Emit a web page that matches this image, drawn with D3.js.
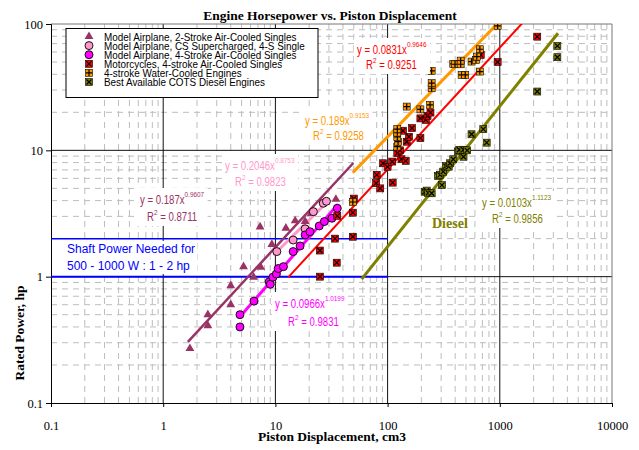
<!DOCTYPE html>
<html>
<head>
<meta charset="utf-8">
<script src="https://cdn.jsdelivr.net/npm/d3@7"></script>
<style>
  body { margin: 0; background: #fff; }
  svg { display: block; }
  .narrow { font-family: "Liberation Sans Narrow", "Arial Narrow", "Liberation Sans", Arial, sans-serif; }
  .serif { font-family: "Liberation Serif", "Times New Roman", serif; }
</style>
</head>
<body>
<script>
// set dimensions and margins
const width = 639
const height = 450
const margin = {top: 24, right: 27, bottom: 47, left: 51}

// tick values
const xTicks = [0.1, 1, 10, 100, 1000, 10000]
const yTicks = [0.1, 1, 10, 100]

// data: [displacement cm3, rated hp]
const twoStroke = [[1.73, 0.27], [2.5, 0.41], [2.5, 0.50], [4.0, 0.60], [4.0, 0.85], [5.2, 1.2],
  [6.4, 0.99], [7.4, 1.19], [9.3, 1.8], [7.3, 2.48], [12.4, 2.42], [15, 2.77], [18.4, 2.74],
  [20.8, 3.17], [34.6, 4.1]]
const csSuper = [[10.3, 1.58], [14.4, 1.95], [18.4, 2.39], [21.8, 3.27], [26.7, 3.81], [28.5, 3.95]]
const fourStroke = [[4.83, 0.40], [4.83, 0.50], [6.44, 0.64], [8.8, 0.91], [9.0, 0.87], [9.5, 0.99],
  [10.2, 1.05], [10.6, 1.16], [11.8, 1.2], [14.4, 1.58], [16.6, 1.75], [18.4, 2.14], [20.3, 2.27],
  [24.6, 2.52], [27.3, 2.73], [31.9, 2.9], [35.6, 3.48]]
const motorcycles = [[25, 1.0], [24.9, 1.61], [34, 2.0], [35.2, 1.29], [35.6, 3.03], [49, 2.07],
  [49, 3.21], [50, 4.15], [80, 6.4], [79, 5.5], [86, 5.0], [111, 5.55], [91, 7.9], [100, 7.4],
  [110, 8.15], [122, 9.5], [133, 8.5], [145, 8.25], [129, 10], [148, 11.7], [155, 12.8], [137, 14.3],
  [165, 15], [196, 12.5], [196, 17.9], [219, 17.4], [227, 18.7], [241, 19.9], [676, 57], [957, 50],
  [2157, 79.4]]
const waterCooled = [[49, 3.9], [122, 10.7], [124, 11.7], [122, 12.8], [122, 13.8], [122, 14.7],
  [148, 22.2], [196, 21.1], [239, 22.9], [247, 31], [247, 34], [247, 42.5], [385, 48.3], [399, 48],
  [448, 51.3], [448, 48], [457, 39.5], [492, 39.5], [560, 50.4], [613, 52], [624, 55.2], [664, 63.1],
  [664, 42], [957, 96.6]]
const diesel = [[214, 4.7], [223, 4.8], [230, 4.6], [247, 4.57], [281, 6.27], [293, 6.4], [305, 5.3],
  [313, 6.78], [330, 7.5], [350, 7.43], [360, 7.9], [385, 8.5], [425, 9.8], [436, 10.1], [475, 8.9],
  [475, 10.1], [512, 10.0], [560, 13.4], [713, 14.7], [764, 11.5], [2157, 29.2], [3258, 54.6],
  [3258, 67.1]]

// power-law fits y = a x^b, drawn over [x0, x1]
const fits = [
  {name: 'twoStroke', a: 0.187, b: 0.9607, x0: 1.66, x1: 49.5, r2: '0.8711', color: '#993366', w: 2.5},
  {name: 'csSuper', a: 0.2046, b: 0.8753, x0: 9.6, x1: 28.6, r2: '0.9823', color: '#FF99CC', w: 3},
  {name: 'fourStroke', a: 0.0966, b: 1.0199, x0: 4.83, x1: 36, r2: '0.9831', color: '#FF00FF', w: 3},
  {name: 'motorcycles', a: 0.0831, b: 0.9646, x0: 13, x1: 2160, r2: '0.9251', color: '#FF0000', w: 2},
  {name: 'waterCooled', a: 0.189, b: 0.9153, x0: 49, x1: 960, r2: '0.9258', color: '#FF9900', w: 3},
  {name: 'diesel', a: 0.0103, b: 1.1123, x0: 58.7, x1: 3300, r2: '0.9856', color: '#808000', w: 3}
]

// shaft power band (hp) and its x extent
const bandLevels = [1, 2]
const bandExtent = [0.1, 100]

const legendLabels = [
  'Model Airplane, 2-Stroke Air-Cooled Singles',
  'Model Airplane, CS Supercharged, 4-S Single',
  'Model Airplane, 4-Stroke Air-Cooled Singles',
  'Motorcycles, 4-stroke Air-Cooled Singles',
  '4-stroke Water-Cooled Engines',
  'Best Available COTS Diesel Engines'
]

const series = [
  {data: twoStroke, marker: 'triangle', color: '#993366'},
  {data: csSuper, marker: 'circle', color: '#FF99CC'},
  {data: fourStroke, marker: 'circle', color: '#FF00FF'},
  {data: motorcycles, marker: 'cross', color: '#FF0000'},
  {data: waterCooled, marker: 'plus', color: '#FF9900'},
  {data: diesel, marker: 'cross', color: '#808000'}
]

const x = d3.scaleLog().domain([0.1, 10000]).range([margin.left, width - margin.right])
const y = d3.scaleLog().domain([0.1, 100]).range([height - margin.bottom, margin.top])

const svg = d3.select('body').append('svg')
    .attr('width', width)
    .attr('height', height)

// squeeze text horizontally (stand-in for a condensed face)
function condense(sel, k) {
  sel.each(function () {
    const len = this.getComputedTextLength()
    d3.select(this).attr('textLength', len * k).attr('lengthAdjust', 'spacingAndGlyphs')
  })
}

svg.append('clipPath').attr('id', 'plot-clip')
  .append('rect')
    .attr('x', x.range()[0]).attr('y', y.range()[1])
    .attr('width', x.range()[1] - x.range()[0])
    .attr('height', y.range()[0] - y.range()[1])

// minor gridlines
const minorX = d3.range(-1, 4).flatMap((e) => d3.range(2, 10).map((m) => m * Math.pow(10, e)))
const minorY = d3.range(-1, 2).flatMap((e) => d3.range(2, 10).map((m) => m * Math.pow(10, e)))

const grid = svg.append('g')
grid.selectAll('.minor-x').data(minorX).join('line')
    .attr('x1', (d) => x(d)).attr('x2', (d) => x(d))
    .attr('y1', y.range()[0]).attr('y2', y.range()[1])
    .attr('stroke', '#bdbdbd').attr('stroke-dasharray', '6,5')
grid.selectAll('.minor-y').data(minorY).join('line')
    .attr('y1', (d) => y(d)).attr('y2', (d) => y(d))
    .attr('x1', x.range()[0]).attr('x2', x.range()[1])
    .attr('stroke', '#bdbdbd').attr('stroke-dasharray', '6,5')

// major gridlines
grid.selectAll('.major-x').data(xTicks.slice(1, -1)).join('line')
    .attr('x1', (d) => x(d)).attr('x2', (d) => x(d))
    .attr('y1', y.range()[0]).attr('y2', y.range()[1])
    .attr('stroke', '#111')
grid.selectAll('.major-y').data(yTicks.slice(1, -1)).join('line')
    .attr('y1', (d) => y(d)).attr('y2', (d) => y(d))
    .attr('x1', x.range()[0]).attr('x2', x.range()[1])
    .attr('stroke', '#111')

// plot frame (top and right)
svg.append('path')
    .attr('d', `M${x.range()[0]},${y.range()[1]}H${x.range()[1]}V${y.range()[0]}`)
    .attr('fill', 'none').attr('stroke', '#777')

// axes
const xAxis = svg.append('g')
    .attr('transform', `translate(0, ${y.range()[0]})`)
    .call(d3.axisBottom(x).tickValues(xTicks).tickFormat((d) => d3.format('~g')(d)).tickSize(4).tickPadding(14))
const yAxis = svg.append('g')
    .attr('transform', `translate(${x.range()[0]}, 0)`)
    .call(d3.axisLeft(y).tickValues(yTicks).tickFormat((d) => d3.format('~g')(d)).tickSize(5).tickPadding(3))
;[xAxis, yAxis].forEach((a) => {
  a.select('.domain').attr('stroke', '#000')
  a.selectAll('line').attr('stroke', '#000')
  a.selectAll('text').attr('class', 'serif').attr('font-size', 12.5).attr('fill', '#000')
})

// shaft power band
svg.selectAll('.band').data(bandLevels).join('line')
    .attr('x1', x(bandExtent[0])).attr('x2', x(bandExtent[1]))
    .attr('y1', (d) => y(d)).attr('y2', (d) => y(d))
    .attr('stroke', '#0000FF').attr('stroke-width', (d) => d === 1 ? 2 : 1.5)

// trendlines
const trend = d3.line().x((d) => x(d[0])).y((d) => y(d[1]))
svg.append('g').attr('clip-path', 'url(#plot-clip)')
  .selectAll('path').data(fits).join('path')
    .attr('d', (f) => trend([f.x0, f.x1].map((v) => [v, f.a * Math.pow(v, f.b)])))
    .attr('fill', 'none')
    .attr('stroke', (f) => f.color)
    .attr('stroke-width', (f) => f.w)

// markers
function drawMarker(sel, kind, color) {
  if (kind === 'triangle') {
    sel.append('path').attr('d', d3.symbol(d3.symbolTriangle, 34)())
      .attr('fill', color)
  } else if (kind === 'circle') {
    sel.append('circle').attr('r', 4).attr('fill', color).attr('stroke', '#000').attr('stroke-width', 0.9)
  } else {
    sel.append('rect').attr('x', -3.5).attr('y', -3.5).attr('width', 7).attr('height', 7)
      .attr('fill', color).attr('stroke', '#000').attr('stroke-width', 0.6)
    const p = kind === 'cross'
      ? 'M-2.5,-2.5L2.5,2.5M-2.5,2.5L2.5,-2.5'
      : 'M-3.2,0H3.2M0,-3.2V3.2'
    sel.append('path').attr('d', p).attr('stroke', '#000').attr('stroke-width', 1.2)
  }
}

const marks = svg.append('g').attr('clip-path', 'url(#plot-clip)')
series.forEach((s) => {
  marks.append('g').selectAll('g').data(s.data).join('g')
      .attr('transform', (d) => `translate(${x(d[0])}, ${y(d[1])})`)
      .each(function () { drawMarker(d3.select(this), s.marker, s.color) })
})

// equation labels with white backing
function eqLabel(px, py, rx, ry, f) {
  const g = svg.append('g')
  const t1 = g.append('text').attr('class', 'narrow').attr('x', px).attr('y', py)
      .attr('font-size', 12).attr('fill', f.color)
  t1.append('tspan').text(`y = ${f.a}x`)
  t1.append('tspan').attr('dy', -7).attr('font-size', 8).text(f.b)
  const t2 = g.append('text').attr('class', 'narrow').attr('x', rx).attr('y', ry)
      .attr('font-size', 12).attr('fill', f.color)
  t2.append('tspan').text('R')
  t2.append('tspan').attr('dy', -6).attr('font-size', 8).text('2')
  t2.append('tspan').attr('dy', 6).text(` = ${f.r2}`)
  condense(g.selectAll('text'), 0.8)
  const b = g.node().getBBox()
  g.insert('rect', 'text')
      .attr('x', b.x - 3).attr('y', b.y - 2).attr('width', b.width + 6).attr('height', b.height + 4)
      .attr('fill', '#fff')
}
eqLabel(140, 204, 147, 221, fits[0])
eqLabel(225, 170, 235, 186, fits[1])
eqLabel(275, 308, 288, 326, fits[2])
eqLabel(357, 54, 366, 69, fits[3])
eqLabel(305, 125, 313, 140, fits[4])
eqLabel(482, 207, 492, 223, fits[5])

svg.append('text').attr('class', 'serif')
    .attr('x', 432).attr('y', 228)
    .attr('font-size', 14).attr('font-weight', 'bold').attr('fill', '#808000')
    .text('Diesel')

// shaft power text
const band = svg.append('g')
band.append('text').attr('class', 'narrow').attr('x', 67).attr('y', 253)
    .attr('font-size', 12.5).attr('fill', '#0000FF').text('Shaft Power Needed for')
band.append('text').attr('class', 'narrow').attr('x', 67).attr('y', 270)
    .attr('font-size', 12.5).attr('fill', '#0000FF').text('500 - 1000 W : 1 - 2 hp')
condense(band.selectAll('text'), 0.96)
const bb = band.node().getBBox()
band.insert('rect', 'text').attr('x', bb.x - 2).attr('y', bb.y - 1)
    .attr('width', bb.width + 4).attr('height', bb.height + 2).attr('fill', '#fff')

// legend
const legend = svg.append('g')
legend.append('rect').attr('x', 66).attr('y', 28.5).attr('width', 252).attr('height', 69)
    .attr('fill', '#fff').attr('stroke', '#000')
legendLabels.forEach((label, i) => {
  const row = legend.append('g').attr('transform', `translate(89, ${36.5 + i * 9.1})`)
  drawMarker(row, series[i].marker, series[i].color)
  row.append('text').attr('class', 'narrow').attr('x', 15).attr('dy', '0.35em')
      .attr('font-size', 11.5).attr('fill', '#000').text(label)
})
condense(legend.selectAll('text'), 0.86)

// titles
svg.append('text').attr('class', 'serif')
    .attr('x', 330).attr('y', 20).attr('text-anchor', 'middle')
    .attr('font-size', 13.5).attr('font-weight', 'bold').text('Engine Horsepower vs. Piston Displacement')
svg.append('text').attr('class', 'serif')
    .attr('x', 332).attr('y', 441).attr('text-anchor', 'middle')
    .attr('font-size', 13.5).attr('font-weight', 'bold').text('Piston Displacement, cm3')
svg.append('text').attr('class', 'serif')
    .attr('transform', 'translate(24, 333) rotate(-90)').attr('text-anchor', 'middle')
    .attr('font-size', 13.5).attr('font-weight', 'bold').text('Rated Power, hp')
</script>
</body>
</html>
